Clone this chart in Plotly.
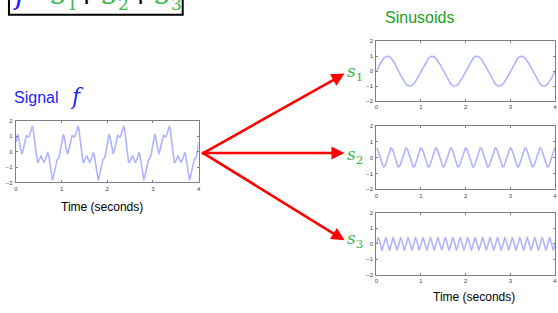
import numpy as np
import plotly.graph_objects as go

W, H = 558, 313

# --- data ---
time_range = [0, 4]            # seconds
x_ticks = [0, 1, 2, 3, 4]
y_ticks = [-2, -1, 0, 1, 2]
amplitudes = [1.0, 0.6, 0.4]   # s1, s2, s3
frequencies = [1, 3, 6]        # Hz
phases = [0.0, np.pi / 2, 0.0] # radians (s2 starts at its peak)
sinusoid_labels = ["1", "2", "3"]

t = np.linspace(time_range[0], time_range[1], 2001)
components = [a * np.sin(2 * np.pi * f * t + p) for a, f, p in zip(amplitudes, frequencies, phases)]
signal = components[0] + components[1] + components[2]


def px(x):
    return x / W


def py(y):
    return 1 - y / H


LINE = "#b0b4ff"
AXC = "#7f7f7f"
BLUE = "#1f1fff"
GREEN_T = "#22a022"
GREEN_S = "#3cb64a"

fig = go.Figure()

# panel boxes in pixel coordinates: (x0, x1, ytop, ybottom)
panels = [
    (14, 198, 120, 183),
    (377, 557, 39, 100),
    (377, 557, 125, 190),
    (377, 557, 214, 277),
]
series = [signal] + components

layout_axes = {}
for i, ((x0, x1, yt, yb), ys) in enumerate(zip(panels, series)):
    n = "" if i == 0 else str(i + 1)
    fig.add_trace(go.Scatter(x=t, y=ys, mode="lines", line=dict(color=LINE, width=1.6),
                             xaxis="x" + n, yaxis="y" + n, hoverinfo="skip", showlegend=False))
    common = dict(showline=True, linecolor=AXC, linewidth=1, mirror="ticks", ticks="inside",
                  ticklen=2, tickcolor=AXC, showgrid=False, zeroline=False,
                  tickfont=dict(size=6, color="#444", family="Liberation Sans"))
    layout_axes["xaxis" + n] = dict(domain=[px(x0), px(x1)], range=time_range, tickvals=x_ticks,
                                    anchor="y" + n, **common)
    layout_axes["yaxis" + n] = dict(domain=[py(yb), py(yt)], range=[y_ticks[0], y_ticks[-1]],
                                    tickvals=y_ticks, anchor="x" + n, ticklabelstandoff=1, **common)

fig.update_layout(**layout_axes)

annotations = []


def note(x, y, text, size, color, family, xanchor="left", yanchor="middle", pad=1):
    annotations.append(dict(x=px(x), y=py(y), xref="paper", yref="paper", xanchor=xanchor,
                            yanchor=yanchor, text=text, showarrow=False, borderpad=pad, borderwidth=0,
                            font=dict(size=size, color=color, family=family)))


# Titles / labels
note(11, 96, "Signal", 16, BLUE, "Liberation Sans")
note(67, 95, "<i>f</i>", 22, BLUE, "DejaVu Serif")
note(421, 15, "Sinusoids", 16, GREEN_T, "Liberation Sans", xanchor="center")
note(101, 208, "Time (seconds)", 12, "#000", "Liberation Sans", xanchor="center")
note(475, 300, "Time (seconds)", 12, "#000", "Liberation Sans", xanchor="center")

# s labels
label_y = [71, 155, 241]
for lab, yy in zip(sinusoid_labels, label_y):
    note(346, yy, "<i>s</i><sub>" + lab + "</sub>", 17, GREEN_S, "DejaVu Serif")

# arrows
tail = (201, 153)
heads = [(345, 72), (345, 153), (345, 242)]
for hx, hy in heads:
    annotations.append(dict(x=px(hx), y=py(hy), xref="paper", yref="paper", text="", showarrow=True,
                            ax=tail[0] - hx, ay=tail[1] - hy, arrowcolor="#ff0000", arrowwidth=2.6,
                            arrowhead=2, arrowsize=1.0, standoff=0, startstandoff=0))

# formula box at the top (cut off by the page edge): f = s1 + s2 + s3
FS = 30
FB = 8.5
note(11, FB, "<i>f</i>", FS, BLUE, "DejaVu Serif", yanchor="bottom", pad=0)
note(26, FB, "=", FS, "#000", "DejaVu Serif", xanchor="center", yanchor="bottom", pad=0)
note(85, FB, "+", FS, "#000", "DejaVu Serif", xanchor="center", yanchor="bottom", pad=0)
note(140, FB, "+", FS, "#000", "DejaVu Serif", xanchor="center", yanchor="bottom", pad=0)
for xs, lab in zip([49, 101, 154], sinusoid_labels):
    note(xs, FB, "<i>s</i>", FS, GREEN_S, "DejaVu Serif", yanchor="bottom", pad=0)
    note(xs + 16, 11.5, lab, 17, GREEN_S, "DejaVu Serif", yanchor="bottom", pad=0)

fig.update_layout(
    width=W, height=H, margin=dict(l=0, r=0, t=0, b=0),
    paper_bgcolor="white", plot_bgcolor="white",
    annotations=annotations,
    shapes=[dict(type="rect", xref="paper", yref="paper", x0=px(7), x1=px(182), y0=py(12), y1=py(-40),
                 line=dict(color="#000", width=2), fillcolor="rgba(0,0,0,0)", layer="above")],
)

fig.write_html("out.html", config={"displayModeBar": False},
               post_script="document.body.style.margin='0px';")
